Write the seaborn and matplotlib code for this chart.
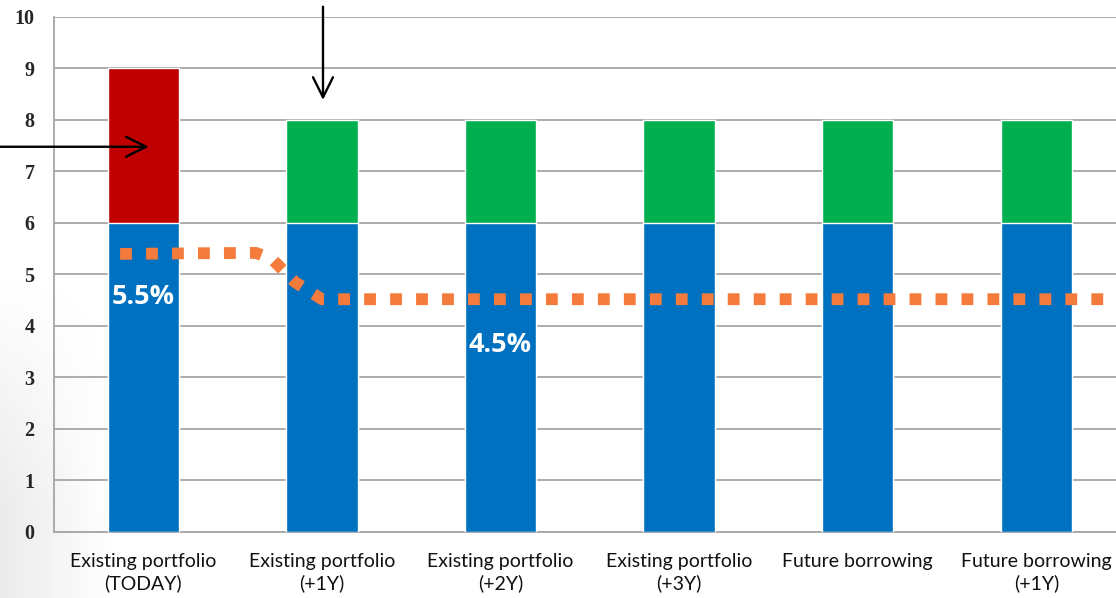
import numpy as np
import seaborn as sns
import matplotlib.pyplot as plt

sns.set_style("white")

categories = ["Existing portfolio\n(TODAY)", "Existing portfolio\n(+1Y)",
              "Existing portfolio\n(+2Y)", "Existing portfolio\n(+3Y)",
              "Future borrowing", "Future borrowing\n(+1Y)"]
base_values = [6, 6, 6, 6, 6, 6]
top_values = [3, 2, 2, 2, 2, 2]
top_colors = ["#C00000", "#00B050", "#00B050", "#00B050", "#00B050", "#00B050"]

# average rate line (drawn in category units)
rate_x = [-0.13, 0.63, 0.72, 0.85, 1.0, 5.45]
rate_y = [5.4, 5.42, 5.3, 4.85, 4.52, 4.52]
rate_labels = ["5.5%", "4.5%"]
rate_label_x = [0, 2]
rate_label_y = [4.56, 3.63]

totals = [b + t for b, t in zip(base_values, top_values)]

fig = plt.figure(figsize=(11.16, 5.98), dpi=100)

# faint slide background in the lower-left corner
bg = fig.add_axes([0, 0, 1, 1], zorder=-1)
gx = np.linspace(0, 1, 400)
gy = np.linspace(0, 1, 200)
GX, GY = np.meshgrid(gx, gy)
shade = np.clip(1 - GX / 0.1, 0, 1) * np.clip((0.55 - GY) / 0.4, 0, 1)
bg.imshow(1 - 0.08 * shade, cmap="gray", vmin=0, vmax=1, aspect="auto",
          origin="lower", extent=[0, 1, 0, 1])
bg.axis("off")

ax = fig.add_axes([0.0484, 0.1104, 0.9516, 0.8612])
ax.patch.set_alpha(0)

sns.barplot(x=categories, y=totals, hue=categories, palette=top_colors,
            width=0.4, legend=False, ax=ax, zorder=3, saturation=1)
sns.barplot(x=categories, y=base_values, color="#0070C0", width=0.4,
            ax=ax, zorder=3, saturation=1)

ax.plot(rate_x, rate_y, color="#F47B3B", lw=8.5, dashes=(1.0, 1.2),
        solid_capstyle="butt", dash_capstyle="butt", zorder=4, clip_on=False)

for lab, lx, ly in zip(rate_labels, rate_label_x, rate_label_y):
    ax.text(lx, ly, lab, color="white", fontsize=19.5, fontweight="bold",
            ha="center", va="center", family="Open Sans", zorder=5)

# arrows
ax.annotate("", xy=(0.03, 7.48), xytext=(-0.82, 7.48),
            arrowprops=dict(arrowstyle="->", lw=1.7, color="black",
                            mutation_scale=36, shrinkA=0, shrinkB=0),
            annotation_clip=False, zorder=6)
ax.annotate("", xy=(1.006, 8.39), xytext=(1.006, 10.2),
            arrowprops=dict(arrowstyle="->", lw=1.7, color="black",
                            mutation_scale=36, shrinkA=0, shrinkB=0),
            annotation_clip=False, zorder=6)

ax.set_ylim(0, 10)
ax.set_yticks(range(0, 11))
ax.grid(axis="y", color="#A6A6A6", lw=1.3, zorder=0)
ax.set_axisbelow(True)

ax.set_xticks(np.arange(6))
ax.set_xticks(np.arange(-0.5, 6, 1), minor=True)
ax.tick_params(axis="x", which="major", length=0, pad=15)
ax.tick_params(axis="x", which="minor", length=6, color="#A6A6A6", width=1.3, direction="out")
ax.tick_params(axis="y", length=8, color="#A6A6A6", width=1.3, direction="out", pad=6)

for lbl in ax.get_xticklabels():
    lbl.set_family("Lato")
    lbl.set_fontsize(14)
    lbl.set_color("#111111")
    lbl.set_linespacing(1.3)
for lbl in ax.get_yticklabels():
    lbl.set_family("Liberation Serif")
    lbl.set_fontsize(14.5)
    lbl.set_fontweight("bold")
    lbl.set_color("#262626")

for s in ["top", "right"]:
    ax.spines[s].set_visible(False)
for s in ["left", "bottom"]:
    ax.spines[s].set_color("#A6A6A6")
    ax.spines[s].set_linewidth(1.3)
ax.set_xlabel("")
ax.set_ylabel("")
ax.set_xlim(-0.5, 5.446)

fig.savefig("out.png", dpi=100)
